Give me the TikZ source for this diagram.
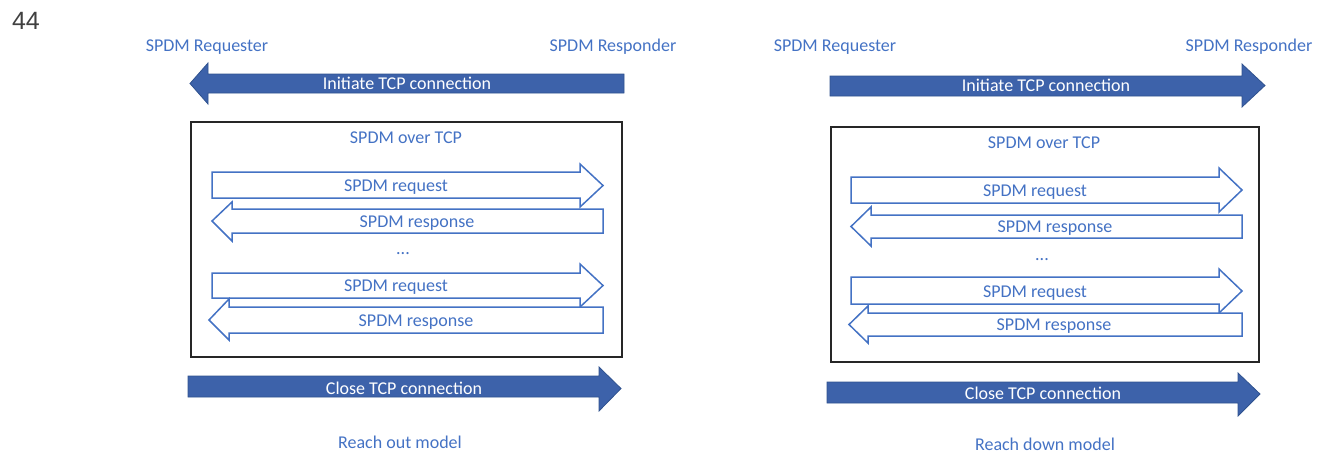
\documentclass[tikz,border=0pt]{standalone}
\usepackage{fontspec}
\setmainfont{Carlito}
\newfontfamily\pagenumfont{Liberation Sans}
\definecolor{spdmblue}{HTML}{4472C4}
\definecolor{spdmfill}{HTML}{3D62AA}
\definecolor{spdmedge}{HTML}{2F528F}
\definecolor{spdmgray}{HTML}{404040}

\begin{document}
\begin{tikzpicture}[x=0.5pt, y=-0.5pt,
        lbl/.style={font=\fontsize{9pt}{10pt}\selectfont, text=spdmblue, yshift=-1pt},
        wlbl/.style={font=\fontsize{9pt}{10pt}\selectfont, text=white},
        solidarrow/.style={fill=spdmfill, draw=spdmedge, line width=0.4pt},
        openarrow/.style={fill=white, draw=spdmblue, line width=0.75pt, line join=miter},
        framebox/.style={draw=black!85, line width=0.55pt},
      ]
      \useasboundingbox (0,0) rectangle (1319,452);

      % Page number
      \node[font=\pagenumfont\fontsize{12.5pt}{14pt}\selectfont, text=spdmgray, anchor=west]
        (pagenum) at (5,21) {44};

      % ---------------- Reach out model ----------------
      \node[lbl] (reqL) at (207,45) {SPDM Requester};
      \node[lbl] (rspL) at (613,45) {SPDM Responder};

      % Initiate (responder to requester)
      \draw[solidarrow] (624,74) -- (208,74) -- (208,63) -- (190,83.5) -- (208,104)
        -- (208,93) -- (624,93) -- cycle;
      \node[wlbl] (initL) at (407,83) {Initiate TCP connection};

      \draw[framebox] (191,122) rectangle (622,357);
      \node[lbl] (overL) at (406,136) {SPDM over TCP};

      % Request / response pairs
      \draw[openarrow] (212,172) -- (580,172) -- (580,164) -- (603,185.5) -- (580,207)
        -- (580,198) -- (212,198) -- cycle;
      \node[lbl] (rq1L) at (396,185) {SPDM request};
      \draw[openarrow] (603,209) -- (232,209) -- (232,202) -- (212,221) -- (232,241)
        -- (232,233) -- (603,233) -- cycle;
      \node[lbl, fill=white, inner xsep=1pt, inner ysep=0.5pt] (rs1L) at (417,221) {SPDM response};

      \node[lbl] (dotsL) at (403,252) {...};

      \draw[openarrow] (212,273) -- (580,273) -- (580,264) -- (603,285.5) -- (580,307)
        -- (580,298) -- (212,298) -- cycle;
      \node[lbl] (rq2L) at (396,285) {SPDM request};
      \draw[openarrow] (603,307) -- (229,307) -- (229,299) -- (209,320) -- (229,340)
        -- (229,333) -- (603,333) -- cycle;
      \node[lbl, fill=white, inner xsep=1pt, inner ysep=0.5pt] (rs2L) at (416,320) {SPDM response};

      % Close (requester to responder)
      \draw[solidarrow] (188,376) -- (599,376) -- (599,367) -- (621,388.5) -- (599,411)
        -- (599,397) -- (188,397) -- cycle;
      \node[wlbl] (closeL) at (404,388) {Close TCP connection};

      \node[lbl] (modelL) at (400,440) {Reach out model};

      % ---------------- Reach down model ----------------
      \node[lbl] (reqR) at (835,45) {SPDM Requester};
      \node[lbl] (rspR) at (1249,45) {SPDM Responder};

      % Initiate (requester to responder)
      \draw[solidarrow] (830,76) -- (1242,76) -- (1242,64) -- (1265,85.5) -- (1242,107)
        -- (1242,96) -- (830,96) -- cycle;
      \node[wlbl] (initR) at (1046,85) {Initiate TCP connection};

      \draw[framebox] (831,127) rectangle (1259,362);
      \node[lbl] (overR) at (1044,141) {SPDM over TCP};

      % Request / response pairs
      \draw[openarrow] (851,177) -- (1219,177) -- (1219,168) -- (1242,190) -- (1219,212)
        -- (1219,203) -- (851,203) -- cycle;
      \node[lbl] (rq1R) at (1035,190) {SPDM request};
      \draw[openarrow] (1242,215) -- (871,215) -- (871,207) -- (851,226.5) -- (871,246)
        -- (871,238) -- (1242,238) -- cycle;
      \node[lbl, fill=white, inner xsep=1pt, inner ysep=0.5pt] (rs1R) at (1055,226) {SPDM response};

      \node[lbl] (dotsR) at (1042,258) {...};

      \draw[openarrow] (851,277) -- (1219,277) -- (1219,269) -- (1242,291) -- (1219,313)
        -- (1219,304) -- (851,304) -- cycle;
      \node[lbl] (rq2R) at (1035,291) {SPDM request};
      \draw[openarrow] (1242,313) -- (868,313) -- (868,306) -- (849,324.5) -- (868,343)
        -- (868,336) -- (1242,336) -- cycle;
      \node[lbl, fill=white, inner xsep=1pt, inner ysep=0.5pt] (rs2R) at (1054,324) {SPDM response};

      % Close (requester to responder)
      \draw[solidarrow] (827,382) -- (1238,382) -- (1238,373) -- (1260,394) -- (1238,416)
        -- (1238,403) -- (827,403) -- cycle;
      \node[wlbl] (closeR) at (1043,393) {Close TCP connection};

      \node[lbl] (modelR) at (1045,442) {Reach down model};
    \end{tikzpicture}
\end{document}
